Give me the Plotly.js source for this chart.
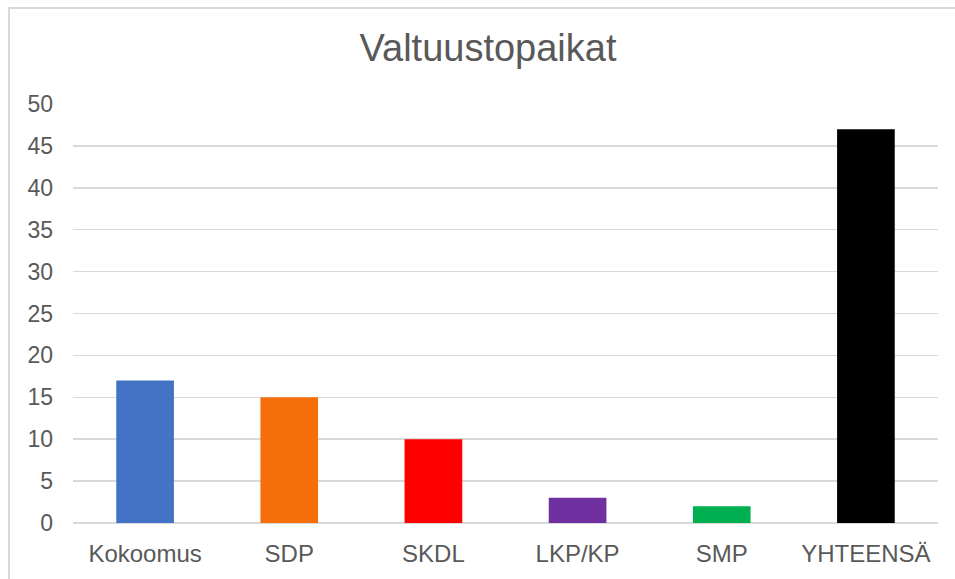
<!DOCTYPE html>
<html>
<head>
<meta charset="utf-8">
<script src="https://cdn.plot.ly/plotly-3.0.1.min.js"></script>
<style>
html,body{margin:0;padding:0;background:#fff;}
#wrap{position:relative;width:955px;height:579px;overflow:hidden;}
#chart{width:955px;height:579px;}
#frame{position:absolute;left:8px;top:7px;width:960px;height:600px;border:2px solid #d9d9d9;box-sizing:border-box;pointer-events:none;}
</style>
</head>
<body>
<div id="wrap"><div id="chart"></div><div id="frame"></div></div>
<script>
var categories = ["Kokoomus", "SDP", "SKDL", "LKP/KP", "SMP", "YHTEENSÄ"];
var seats = [17, 15, 10, 3, 2, 47];
var barColors = ["#4472C4", "#F5700A", "#FF0000", "#7030A0", "#00B050", "#000000"];
var yTicks = [0, 5, 10, 15, 20, 25, 30, 35, 40, 45, 50];

var font = "Liberation Sans, Arial, sans-serif";
var trace = {
  type: "bar",
  x: categories,
  y: seats,
  marker: {color: barColors, line: {width: 0}},
  hoverinfo: "x+y"
};
var layout = {
  width: 955, height: 579,
  margin: {l: 73, r: 17, t: 104, b: 56},
  paper_bgcolor: "#ffffff",
  plot_bgcolor: "#ffffff",
  showlegend: false,
  bargap: 0.6,
  title: {text: "Valtuustopaikat", font: {family: font, size: 38, color: "#595959"}, xref: "container", x: 0.511, xanchor: "center", y: 0.918, yanchor: "middle"},
  xaxis: {
    type: "category",
    showgrid: false, zeroline: false, showline: false,
    ticks: "",
    tickfont: {family: font, size: 24, color: "#595959"},
    ticklabelstandoff: 14
  },
  yaxis: {
    range: [0, 50],
    tickvals: yTicks,
    ticktext: yTicks.map(String),
    showgrid: true, gridcolor: "#d9d9d9", gridwidth: 1.5,
    zeroline: true, zerolinecolor: "#d9d9d9", zerolinewidth: 1.5,
    showline: false, ticks: "",
    tickfont: {family: font, size: 23, color: "#595959"},
    ticklabelstandoff: 19,
    fixedrange: true
  }
};
Plotly.newPlot("chart", [trace], layout, {displayModeBar: false, staticPlot: true});
</script>
</body>
</html>
